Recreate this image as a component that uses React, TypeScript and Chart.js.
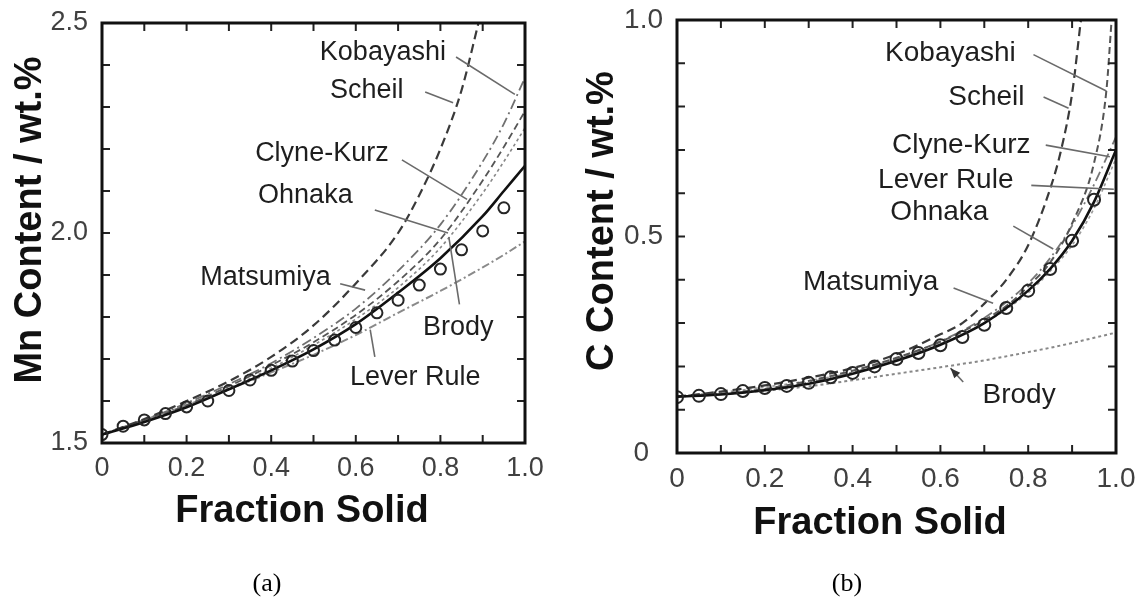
import React, { useEffect, useRef } from 'react';
import { Chart, registerables } from 'chart.js';

Chart.register(...registerables);

// ---------- Panel (a): Mn ----------
const fsL = [0, 0.1, 0.2, 0.3, 0.4, 0.5, 0.6, 0.7, 0.8, 0.9, 0.95, 1.0];
const kobayashiL = [1.52, 1.555, 1.595, 1.64, 1.69, 1.75, 1.82, 1.91, 2.02, 2.17, 2.26, 2.37];
const clyneKurzL = [1.52, 1.555, 1.59, 1.635, 1.685, 1.74, 1.805, 1.885, 1.985, 2.125, 2.205, 2.29];
const brodyL = [1.52, 1.553, 1.588, 1.63, 1.678, 1.733, 1.795, 1.87, 1.965, 2.095, 2.17, 2.25];
const ohnakaL = [1.52, 1.55, 1.585, 1.628, 1.673, 1.723, 1.783, 1.858, 1.94, 2.04, 2.1, 2.16];
const leverL = [1.52, 1.555, 1.59, 1.628, 1.668, 1.71, 1.757, 1.81, 1.862, 1.918, 1.948, 1.98];
const fsScheilL = [0, 0.1, 0.2, 0.3, 0.4, 0.5, 0.6, 0.7, 0.75, 0.8, 0.85, 0.89];
const scheilL = [1.52, 1.557, 1.6, 1.647, 1.705, 1.78, 1.88, 2.0, 2.09, 2.2, 2.34, 2.5];
const fsCircL = [0, 0.05, 0.1, 0.15, 0.2, 0.25, 0.3, 0.35, 0.4, 0.45, 0.5, 0.55, 0.6, 0.65, 0.7, 0.75, 0.8, 0.85, 0.9, 0.95];
const matsumiyaL = [1.52, 1.54, 1.555, 1.57, 1.586, 1.6, 1.625, 1.65, 1.673, 1.695, 1.72, 1.745, 1.775, 1.81, 1.84, 1.876, 1.914, 1.96, 2.005, 2.06];

// ---------- Panel (b): C ----------
const fsR = [0, 0.1, 0.2, 0.3, 0.4, 0.5, 0.6, 0.7, 0.8, 0.85, 0.9, 0.95, 1.0];
const ohnakaR = [0.13, 0.135, 0.145, 0.16, 0.183, 0.213, 0.25, 0.3, 0.375, 0.425, 0.49, 0.58, 0.7];
const leverR = [0.13, 0.14, 0.152, 0.167, 0.186, 0.216, 0.252, 0.3, 0.37, 0.42, 0.48, 0.565, 0.68];
const clyneKurzR = [0.13, 0.136, 0.147, 0.163, 0.186, 0.218, 0.258, 0.312, 0.392, 0.45, 0.525, 0.62, 0.73];
const brodyR = [0.13, 0.136, 0.144, 0.154, 0.168, 0.183, 0.198, 0.214, 0.233, 0.243, 0.254, 0.266, 0.278];
const fsKobayashiR = [0, 0.2, 0.4, 0.5, 0.6, 0.7, 0.76, 0.8, 0.85, 0.9, 0.95, 0.978, 0.99];
const kobayashiR = [0.13, 0.148, 0.19, 0.22, 0.257, 0.307, 0.347, 0.385, 0.44, 0.53, 0.67, 0.836, 1.0];
const fsScheilR = [0, 0.1, 0.2, 0.3, 0.4, 0.5, 0.6, 0.65, 0.7, 0.75, 0.8, 0.85, 0.875, 0.9, 0.92];
const scheilR = [0.13, 0.142, 0.156, 0.174, 0.196, 0.228, 0.274, 0.3, 0.345, 0.4, 0.48, 0.61, 0.7, 0.83, 1.0];
const fsCircR = [0, 0.05, 0.1, 0.15, 0.2, 0.25, 0.3, 0.35, 0.4, 0.45, 0.5, 0.55, 0.6, 0.65, 0.7, 0.75, 0.8, 0.85, 0.9, 0.95];
const matsumiyaR = [0.129, 0.132, 0.136, 0.143, 0.15, 0.155, 0.162, 0.175, 0.185, 0.2, 0.217, 0.231, 0.249, 0.268, 0.296, 0.335, 0.375, 0.425, 0.49, 0.585];

// tick labels / positions
const xTickStep = 0.2;
const xMinorTicks = [0.1, 0.2, 0.3, 0.4, 0.5, 0.6, 0.7, 0.8, 0.9];
const yMinorTicksL = [1.6, 1.7, 1.8, 1.9, 2.0, 2.1, 2.2, 2.3, 2.4];
const yMinorTicksR = [0.1, 0.2, 0.3, 0.4, 0.5, 0.6, 0.7, 0.8, 0.9];

const SANS = '"Liberation Sans", Arial, Helvetica, sans-serif';

type Ann = { text: string; x: number; y: number; line: [number, number, number, number]; arrow?: boolean };

const annL: Ann[] = [
  { text: 'Kobayashi', x: 0.515, y: 2.43, line: [0.837, 2.419, 0.976, 2.33] },
  { text: 'Scheil', x: 0.539, y: 2.34, line: [0.764, 2.336, 0.83, 2.31] },
  { text: 'Clyne-Kurz', x: 0.362, y: 2.19, line: [0.709, 2.174, 0.863, 2.08] },
  { text: 'Ohnaka', x: 0.369, y: 2.09, line: [0.645, 2.055, 0.818, 2.0] },
  { text: 'Matsumiya', x: 0.232, y: 1.895, line: [0.563, 1.879, 0.622, 1.864] },
  { text: 'Brody', x: 0.759, y: 1.774, line: [0.845, 1.83, 0.82, 1.99] },
  { text: 'Lever Rule', x: 0.586, y: 1.657, line: [0.645, 1.705, 0.634, 1.77] },
];

const annR: Ann[] = [
  { text: 'Kobayashi', x: 0.474, y: 0.924, line: [0.812, 0.92, 0.978, 0.836] },
  { text: 'Scheil', x: 0.618, y: 0.822, line: [0.835, 0.822, 0.892, 0.796] },
  { text: 'Clyne-Kurz', x: 0.49, y: 0.711, line: [0.84, 0.711, 0.986, 0.684] },
  { text: 'Lever Rule', x: 0.458, y: 0.63, line: [0.807, 0.618, 0.995, 0.609] },
  { text: 'Ohnaka', x: 0.486, y: 0.557, line: [0.766, 0.524, 0.857, 0.471] },
  { text: 'Matsumiya', x: 0.287, y: 0.395, line: [0.63, 0.381, 0.72, 0.346] },
  { text: 'Brody', x: 0.696, y: 0.134, line: [0.652, 0.164, 0.623, 0.196], arrow: true },
];

const xy = (xs: number[], ys: number[]) => xs.map((x, i) => ({ x, y: ys[i] }));

type PanelCfg = {
  width: number;
  area: { left: number; top: number; right: number; bottom: number };
  yMin: number;
  yMax: number;
  yMinor: number[];
  yLabel: (v: number) => string;
  yTitle: string;
  yTitlePos: [number, number];
  xTitlePos: [number, number];
  fontSize: number;
  ann: Ann[];
  datasets: any[];
};

function makeDecor(cfg: PanelCfg) {
  return {
    id: 'decor',
    afterDatasetsDraw(chart: any) {
      const { ctx, chartArea: a, scales } = chart;
      const xs = scales.x;
      const ys = scales.y;
      ctx.save();
      // inward ticks
      ctx.strokeStyle = '#222';
      ctx.lineWidth = 2;
      ctx.beginPath();
      for (const v of xMinorTicks) {
        const px = xs.getPixelForValue(v);
        ctx.moveTo(px, a.bottom); ctx.lineTo(px, a.bottom - 8);
        ctx.moveTo(px, a.top); ctx.lineTo(px, a.top + 8);
      }
      for (const v of cfg.yMinor) {
        const py = ys.getPixelForValue(v);
        ctx.moveTo(a.left, py); ctx.lineTo(a.left + 8, py);
        ctx.moveTo(a.right, py); ctx.lineTo(a.right - 8, py);
      }
      ctx.stroke();
      // frame
      ctx.strokeStyle = '#111';
      ctx.lineWidth = 3;
      ctx.strokeRect(a.left, a.top, a.right - a.left, a.bottom - a.top);
      // leader lines
      ctx.strokeStyle = '#6a6a6a';
      ctx.fillStyle = '#333';
      ctx.lineWidth = 1.6;
      for (const an of cfg.ann) {
        const [x1, y1, x2, y2] = an.line;
        const p1x = xs.getPixelForValue(x1), p1y = ys.getPixelForValue(y1);
        const p2x = xs.getPixelForValue(x2), p2y = ys.getPixelForValue(y2);
        ctx.beginPath();
        ctx.moveTo(p1x, p1y);
        ctx.lineTo(p2x, p2y);
        ctx.stroke();
        if (an.arrow) {
          const ang = Math.atan2(p2y - p1y, p2x - p1x);
          const L = 10, W = 4;
          ctx.beginPath();
          ctx.moveTo(p2x, p2y);
          ctx.lineTo(p2x - L * Math.cos(ang) + W * Math.sin(ang), p2y - L * Math.sin(ang) - W * Math.cos(ang));
          ctx.lineTo(p2x - L * Math.cos(ang) - W * Math.sin(ang), p2y - L * Math.sin(ang) + W * Math.cos(ang));
          ctx.closePath();
          ctx.fill();
        }
      }
      // labels
      ctx.fillStyle = '#1e1e1e';
      ctx.font = `${cfg.fontSize}px ${SANS}`;
      ctx.textAlign = 'left';
      ctx.textBaseline = 'middle';
      for (const an of cfg.ann) {
        ctx.fillText(an.text, xs.getPixelForValue(an.x), ys.getPixelForValue(an.y));
      }
      // axis titles
      ctx.fillStyle = '#111';
      ctx.font = `bold 38px ${SANS}`;
      ctx.textAlign = 'center';
      ctx.textBaseline = 'alphabetic';
      ctx.fillText('Fraction Solid', cfg.xTitlePos[0], cfg.xTitlePos[1]);
      ctx.translate(cfg.yTitlePos[0], cfg.yTitlePos[1]);
      ctx.rotate(-Math.PI / 2);
      ctx.fillText(cfg.yTitle, 0, 0);
      ctx.restore();
    },
  };
}

function Panel({ cfg, left }: { cfg: PanelCfg; left: number }) {
  const ref = useRef<HTMLCanvasElement | null>(null);
  useEffect(() => {
    const canvas = ref.current;
    if (!canvas) return;
    const H = 603;
    const tickFont = { family: SANS, size: cfg.fontSize };
    const chart = new Chart(canvas, {
      type: 'line',
      data: { datasets: cfg.datasets },
      options: {
        responsive: false,
        animation: false,
        devicePixelRatio: 1,
        layout: { padding: { left: 0, top: cfg.area.top, right: cfg.width - cfg.area.right, bottom: 0 } },
        plugins: { legend: { display: false }, tooltip: { enabled: false } },
        elements: { line: { cubicInterpolationMode: 'monotone' } },
        scales: {
          x: {
            type: 'linear',
            position: 'bottom',
            min: 0,
            max: 1,
            grid: { display: false, drawTicks: false },
            border: { display: false },
            ticks: {
              stepSize: xTickStep,
              autoSkip: false,
              maxRotation: 0,
              padding: 9,
              color: '#404040',
              font: tickFont,
              callback: (v: any) => (Number(v) === 0 ? '0' : Number(v).toFixed(1)),
            },
            afterFit: (s: any) => {
              s.height = H - cfg.area.bottom;
              s.paddingLeft = 0;
              s.paddingRight = 0;
            },
          },
          y: {
            type: 'linear',
            position: 'left',
            min: cfg.yMin,
            max: cfg.yMax,
            grid: { display: false, drawTicks: false },
            border: { display: false },
            ticks: {
              stepSize: 0.5,
              autoSkip: false,
              padding: 14,
              color: '#404040',
              font: tickFont,
              callback: (v: any) => cfg.yLabel(Number(v)),
            },
            afterFit: (s: any) => {
              s.width = cfg.area.left;
              s.paddingTop = 0;
              s.paddingBottom = 0;
            },
          },
        },
      } as any,
      plugins: [makeDecor(cfg)],
    });
    return () => chart.destroy();
  }, [cfg]);
  return (
    <canvas
      ref={ref}
      width={cfg.width}
      height={603}
      style={{ position: 'absolute', left, top: 0, width: cfg.width, height: 603 }}
    />
  );
}

const base = { pointRadius: 0, fill: false, tension: 0.4 };

const cfgL: PanelCfg = {
  width: 570,
  area: { left: 102, top: 23, right: 525, bottom: 443 },
  yMin: 1.5,
  yMax: 2.5,
  yMinor: yMinorTicksL,
  yLabel: (v) => v.toFixed(1),
  yTitle: 'Mn Content / wt.%',
  yTitlePos: [41, 220],
  xTitlePos: [302, 522],
  fontSize: 27,
  ann: annL,
  datasets: [
    { label: 'Matsumiya', data: xy(fsCircL, matsumiyaL), showLine: false, pointRadius: 5.5, pointBorderWidth: 2, pointBorderColor: '#262626', pointBackgroundColor: 'rgba(255,255,255,0)' },
    { ...base, label: 'Ohnaka', data: xy(fsL, ohnakaL), borderColor: '#111', borderWidth: 2.6 },
    { ...base, label: 'Scheil', data: xy(fsScheilL, scheilL), borderColor: '#3a3a3a', borderWidth: 2.2, borderDash: [9, 5] },
    { ...base, label: 'Kobayashi', data: xy(fsL, kobayashiL), borderColor: '#707070', borderWidth: 1.8, borderDash: [10, 4, 2, 4] },
    { ...base, label: 'Clyne-Kurz', data: xy(fsL, clyneKurzL), borderColor: '#555', borderWidth: 1.8, borderDash: [7, 4] },
    { ...base, label: 'Brody', data: xy(fsL, brodyL), borderColor: '#888', borderWidth: 1.6, borderDash: [3, 3] },
    { ...base, label: 'Lever Rule', data: xy(fsL, leverL), borderColor: '#8a8a8a', borderWidth: 2, borderDash: [8, 3, 2, 3] },
  ],
};

const cfgR: PanelCfg = {
  width: 569,
  area: { left: 107, top: 20, right: 546, bottom: 453 },
  yMin: 0,
  yMax: 1,
  yMinor: yMinorTicksR,
  yLabel: (v) => (v === 0 ? '0\u2002' : v.toFixed(1)),
  yTitle: 'C Content / wt.%',
  yTitlePos: [43, 221],
  xTitlePos: [310, 534],
  fontSize: 28,
  ann: annR,
  datasets: [
    { label: 'Matsumiya', data: xy(fsCircR, matsumiyaR), showLine: false, pointRadius: 6, pointBorderWidth: 2, pointBorderColor: '#262626', pointBackgroundColor: 'rgba(255,255,255,0)' },
    { ...base, label: 'Ohnaka', data: xy(fsR, ohnakaR), borderColor: '#111', borderWidth: 2.6 },
    { ...base, label: 'Scheil', data: xy(fsScheilR, scheilR), borderColor: '#3a3a3a', borderWidth: 2.2, borderDash: [9, 5] },
    { ...base, label: 'Kobayashi', data: xy(fsKobayashiR, kobayashiR), borderColor: '#555', borderWidth: 2, borderDash: [7, 4] },
    { ...base, label: 'Clyne-Kurz', data: xy(fsR, clyneKurzR), borderColor: '#777', borderWidth: 1.8, borderDash: [10, 4, 2, 4] },
    { ...base, label: 'Lever Rule', data: xy(fsR, leverR), borderColor: '#999', borderWidth: 1.6, borderDash: [3, 3] },
    { ...base, label: 'Brody', data: xy(fsR, brodyR), borderColor: '#888', borderWidth: 2, borderDash: [3, 3] },
  ],
};

const capStyle: React.CSSProperties = {
  position: 'absolute',
  top: 583,
  transform: 'translate(-50%, -50%)',
  fontFamily: '"Liberation Serif", "Times New Roman", serif',
  fontSize: 26,
  color: '#000',
  lineHeight: 1,
  whiteSpace: 'nowrap',
};

export default function App() {
  return (
    <div style={{ position: 'fixed', left: 0, top: 0, width: 1139, height: 603, background: '#fff', overflow: 'hidden' }}>
      <Panel cfg={cfgL} left={0} />
      <Panel cfg={cfgR} left={570} />
      <div style={{ ...capStyle, left: 267 }}>(a)</div>
      <div style={{ ...capStyle, left: 847 }}>(b)</div>
    </div>
  );
}
